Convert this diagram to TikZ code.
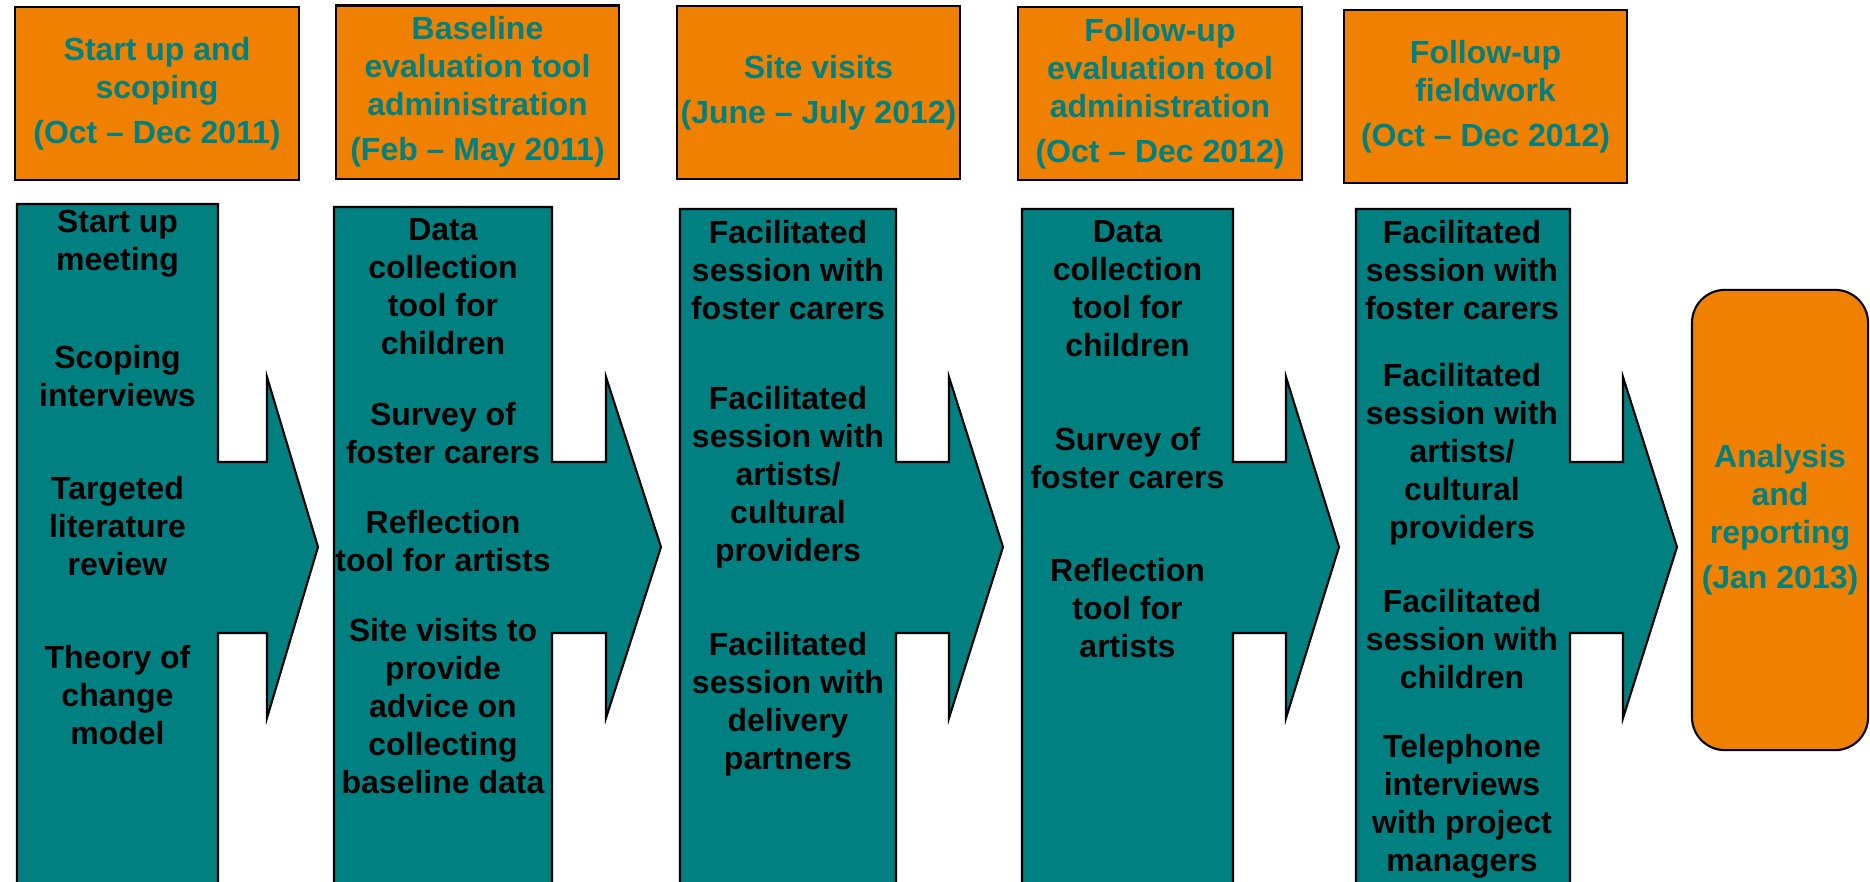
\documentclass[tikz,border=0pt]{standalone}
\usepackage{fontspec}
\setmainfont{Liberation Sans}
\definecolor{boxorange}{RGB}{240,128,0}
\definecolor{phaseteal}{RGB}{0,128,128}

\begin{document}
\begin{tikzpicture}[x=0.01cm,y=-0.01cm,
    font=\fontsize{9.1}{10.8}\selectfont\bfseries,
    stagebox/.style={draw,line width=0.6pt,fill=boxorange,text=phaseteal,align=center,
        minimum width=2.83cm,minimum height=1.73cm,inner sep=0pt},
    phase/.style={draw,line width=0.6pt,fill=phaseteal},
    item/.style={align=center,inner sep=0pt}]
    \useasboundingbox (0,0) rectangle (1870,881);

    % stage headings
    \node[stagebox] (stage1) at (157,93.5) {Start up and\\scoping\\[2pt](Oct -- Dec 2011)};
    \node[stagebox] (stage2) at (477.5,92) {Baseline\\evaluation tool\\administration\\[2pt](Feb -- May 2011)};
    \node[stagebox] (stage3) at (818.5,92.5) {Site visits\\[2pt](June -- July 2012)};
    \node[stagebox] (stage4) at (1160,93.5) {Follow-up\\evaluation tool\\administration\\[2pt](Oct -- Dec 2012)};
    \node[stagebox] (stage5) at (1485.5,96.5) {Follow-up\\fieldwork\\[2pt](Oct -- Dec 2012)};

    % columns with their arrows, cut off at the bottom edge
    \begin{scope}
        \clip (0,0) rectangle (1870,881);
        \draw[phase] (17,204) -- (218,204) -- (218,462) -- (267,462) -- (267,377) -- (318,547)
            -- (267,718) -- (267,633) -- (218,633) -- (218,900) -- (17,900) -- cycle;
        \draw[phase] (334,207) -- (552,207) -- (552,462) -- (606,462) -- (606,377) -- (661,547)
            -- (606,718) -- (606,633) -- (552,633) -- (552,900) -- (334,900) -- cycle;
        \draw[phase] (680,209) -- (896,209) -- (896,462) -- (949,462) -- (949,377) -- (1003,547)
            -- (949,718) -- (949,633) -- (896,633) -- (896,900) -- (680,900) -- cycle;
        \draw[phase] (1022,209) -- (1233,209) -- (1233,462) -- (1286,462) -- (1286,377) -- (1339,547)
            -- (1286,718) -- (1286,633) -- (1233,633) -- (1233,900) -- (1022,900) -- cycle;
        \draw[phase] (1356,209) -- (1570,209) -- (1570,462) -- (1623,462) -- (1623,377) -- (1677,547)
            -- (1623,718) -- (1623,633) -- (1570,633) -- (1570,900) -- (1356,900) -- cycle;
    \end{scope}

    % first column
    \node[item] (p1a) at (117.5,243.5) {Start up\\meeting};
    \node[item] (p1b) at (117.5,376) {Scoping\\interviews};
    \node[item] (p1c) at (117.5,526) {Targeted\\literature\\review};
    \node[item] (p1d) at (117.5,695) {Theory of\\change\\model};

    % second column
    \node[item] (p2a) at (443,287) {Data\\collection\\tool for\\children};
    \node[item] (p2b) at (443,433) {Survey of\\foster carers};
    \node[item] (p2c) at (443,541) {Reflection\\tool for artists};
    \node[item] (p2d) at (443,706) {Site visits to\\provide\\advice on\\collecting\\baseline data};

    % third column
    \node[item] (p3a) at (788,270) {Facilitated\\session with\\foster carers};
    \node[item] (p3b) at (788,477) {Facilitated\\session with\\artists/\\cultural\\providers};
    \node[item] (p3c) at (788,704) {Facilitated\\session with\\delivery\\partners};

    % fourth column
    \node[item] (p4a) at (1127.5,289) {Data\\collection\\tool for\\children};
    \node[item] (p4b) at (1127.5,458) {Survey of\\foster carers};
    \node[item] (p4c) at (1127.5,608) {Reflection\\tool for\\artists};

    % fifth column
    \node[item] (p5a) at (1462,270) {Facilitated\\session with\\foster carers};
    \node[item] (p5b) at (1462,454) {Facilitated\\session with\\artists/\\cultural\\providers};
    \node[item] (p5c) at (1462,639) {Facilitated\\session with\\children};
    \node[item] (p5d) at (1462,806) {Telephone\\interviews\\with project\\managers};

    % last step
    \node[stagebox,minimum width=1.76cm,minimum height=4.6cm,rounded corners=0.33cm] (report)
        at (1780,520) {Analysis\\and\\reporting\\[2pt](Jan 2013)};
\end{tikzpicture}
\end{document}
